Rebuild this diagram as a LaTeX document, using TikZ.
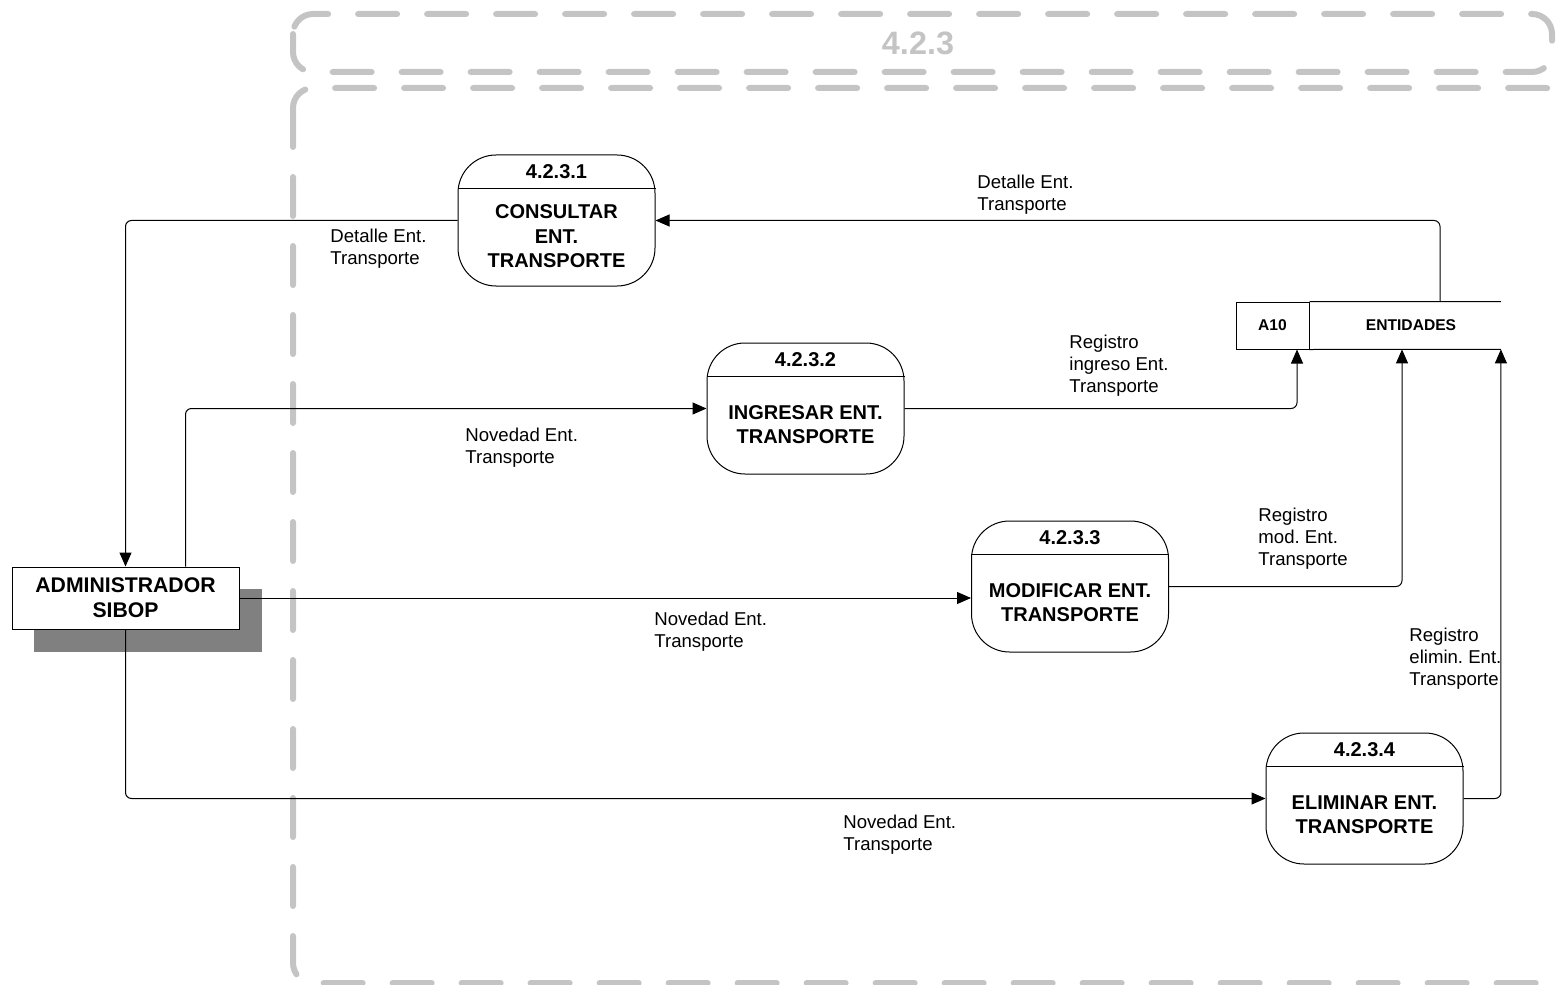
\documentclass[tikz,border=0pt]{standalone}
\usepackage{fontspec}
\setmainfont{Liberation Sans}
\usetikzlibrary{arrows.meta}
\definecolor{framegray}{RGB}{196,196,196}
\definecolor{shadowgray}{RGB}{128,128,128}
\tikzset{
    process/.style={rectangle,draw,rounded corners=19pt,minimum width=98.5pt,minimum height=65.5pt,inner sep=0pt,line width=0.5pt},
    procid/.style={font=\bfseries\fontsize{10}{12}\selectfont,inner sep=0pt},
    proctext/.style={font=\bfseries\fontsize{10}{12.25}\selectfont,align=center,inner sep=0pt},
    entity/.style={rectangle,draw,fill=white,minimum width=113.5pt,minimum height=31pt,inner sep=0pt,align=center,font=\bfseries\fontsize{10.6}{12.5}\selectfont,line width=0.5pt},
    shadowbox/.style={rectangle,fill=shadowgray,minimum width=114pt,minimum height=31.5pt,inner sep=0pt},
    storeid/.style={rectangle,draw,minimum width=36.5pt,minimum height=23.5pt,inner sep=0pt,font=\bfseries\fontsize{7.8}{9}\selectfont,line width=0.5pt},
    storename/.style={rectangle,minimum width=95.5pt,minimum height=23.5pt,inner sep=0pt,font=\bfseries\fontsize{7.8}{9}\selectfont},
    flowlabel/.style={anchor=west,align=left,inner sep=0pt,font=\fontsize{9.3}{11}\selectfont},
    flow/.style={arrows={-Triangle[length=7pt,width=6pt]},rounded corners=3pt,line width=0.5pt},
    frame/.style={draw=framegray,line width=3pt,line cap=round,dash pattern=on 19.5pt off 15pt,rounded corners=10pt},
    }
\frenchspacing
\begin{document}
\begin{tikzpicture}[x=0.5pt,y=-0.5pt]
        \useasboundingbox (0,0) rectangle (1556,984);

        % frame of 4.2.3
        \draw[frame] (293,14) rectangle (1552,72);
        \draw[frame] (293,88) rectangle (1566,983);
        \node[font=\bfseries\fontsize{16.2}{18}\selectfont,text=framegray,inner sep=0pt] (title) at (918,43) {4.2.3};

        % processes
        \node[process] (p1) at (556.5,220.5) {};
        \node[process] (p2) at (805.5,408.5) {};
        \node[process] (p3) at (1070,586.5) {};
        \node[process] (p4) at (1364.5,798.5) {};
        \draw[line width=0.5pt] ([yshift=-17pt]p1.north west) -- ([yshift=-17pt]p1.north east);
        \draw[line width=0.5pt] ([yshift=-17pt]p2.north west) -- ([yshift=-17pt]p2.north east);
        \draw[line width=0.5pt] ([yshift=-17pt]p3.north west) -- ([yshift=-17pt]p3.north east);
        \draw[line width=0.5pt] ([yshift=-17pt]p4.north west) -- ([yshift=-17pt]p4.north east);
        \node[procid] (p1id) at ([yshift=-8.5pt]p1.north) {4.2.3.1};
        \node[procid] (p2id) at ([yshift=-8.5pt]p2.north) {4.2.3.2};
        \node[procid] (p3id) at ([yshift=-8.5pt]p3.north) {4.2.3.3};
        \node[procid] (p4id) at ([yshift=-8.5pt]p4.north) {4.2.3.4};
        \node[proctext] (p1txt) at ([yshift=-8pt]p1.center) {CONSULTAR\\ENT.\\TRANSPORTE};
        \node[proctext] (p2txt) at ([yshift=-8pt]p2.center) {INGRESAR ENT.\\TRANSPORTE};
        \node[proctext] (p3txt) at ([yshift=-8pt]p3.center) {MODIFICAR ENT.\\TRANSPORTE};
        \node[proctext] (p4txt) at ([yshift=-8pt]p4.center) {ELIMINAR ENT.\\TRANSPORTE};

        % external entity
        \node[shadowbox] (admshadow) at (148,620.5) {};
        \node[entity] (adm) at (125.5,598) {ADMINISTRADOR\\SIBOP};

        % data store
        \node[storeid] (a10) at (1272.5,325.5) {A10};
        \node[storename] (ent) at (1405,325.5) {\hspace*{6pt}ENTIDADES};
        \draw[line width=0.5pt] (a10.north east) -- (ent.north east);
        \draw[line width=0.5pt] (a10.south east) -- (ent.south east);

        % flows
        \draw[flow] ([xshift=17.5pt]ent.north) |- (p1.east);
        \draw[flow] (p1.west) -| (adm.north);
        \draw[flow] ([xshift=30pt]adm.north) |- (p2.west);
        \draw[flow] (p2.east) -| ([xshift=12.25pt]a10.south);
        \draw[flow] (adm.east) -- (p3.west |- adm.east);
        \draw[flow] (p3.east) -| ([xshift=-1.5pt]ent.south);
        \draw[flow] (adm.south) |- (p4.west);
        \draw[flow] (p4.east) -| (ent.south east);

        % flow labels
        \node[flowlabel] (l1) at (977,195) {Detalle Ent.\\Transporte};
        \node[flowlabel] (l2) at (330,248.5) {Detalle Ent.\\Transporte};
        \node[flowlabel] (l3) at (465,448) {Novedad Ent.\\Transporte};
        \node[flowlabel] (l4) at (1069,365.5) {Registro\\ingreso Ent.\\Transporte};
        \node[flowlabel] (l5) at (654,632) {Novedad Ent.\\Transporte};
        \node[flowlabel] (l6) at (1258,539) {Registro\\mod. Ent.\\Transporte};
        \node[flowlabel] (l7) at (843,835) {Novedad Ent.\\Transporte};
        \node[flowlabel] (l8) at (1409,659) {Registro\\elimin. Ent.\\Transporte};
\end{tikzpicture}
\end{document}
